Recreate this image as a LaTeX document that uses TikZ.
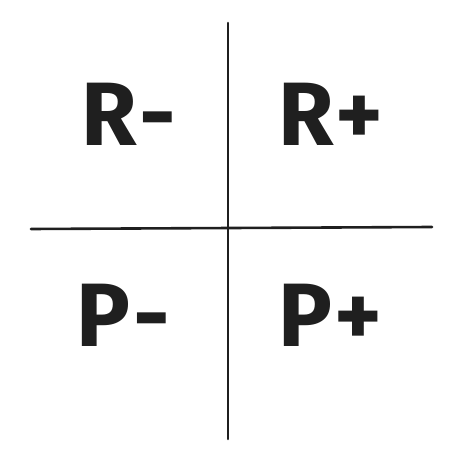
\documentclass[tikz,border=0pt]{standalone}
\usepackage{fontspec}
\setmainfont{Fira Sans}
\begin{document}
\begin{tikzpicture}[x=1pt,y=-1pt,
  axis/.style={line width=2.6pt, draw=black!88, line cap=round},
  lbl/.style={inner sep=0pt, text=black!88, font=\fontsize{90}{90}\selectfont\bfseries}]
\useasboundingbox (0,0) rectangle (469,465);
\coordinate (vt) at (228,23);
\coordinate (vb) at (228,439);
\coordinate (hl) at (31,229);
\coordinate (hr) at (432,227);
\draw[axis] (vt) -- (vb);
\draw[axis] (hl) -- (hr);
\node[lbl] (rm) at (129,114) {R\kern3pt-};
\node[lbl] (rp) at (331,114) {R\kern2pt+};
\node[lbl] (pm) at (123,315) {P\kern3pt-};
\node[lbl] (pp) at (330,315) {P\kern2pt+};
\end{tikzpicture}
\end{document}
